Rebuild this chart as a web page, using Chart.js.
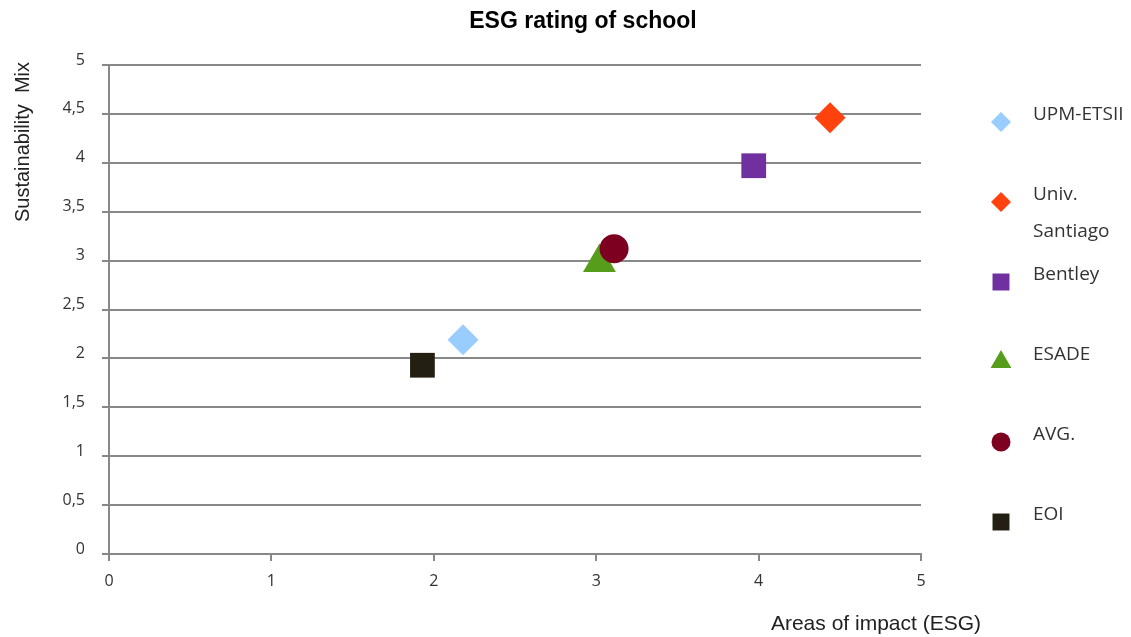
<!DOCTYPE html>
<html>
<head>
<meta charset="utf-8">
<title>ESG rating of school</title>
<script src="https://cdn.jsdelivr.net/npm/chart.js@4/dist/chart.umd.min.js"></script>
<style>
    html, body { margin: 0; padding: 0; background: #fff; }
    #wrap { width: 1131px; height: 637px; }
</style>
</head>
<body>
<div id="wrap"><canvas id="esgChart"></canvas></div>
<script>
// values
const schools = ['UPM-ETSII', 'Univ. Santiago', 'Bentley', 'ESADE', 'AVG.', 'EOI'];
const impactAreas = [2.18, 4.44, 3.97, 3.02, 3.11, 1.93];        // x
const sustainabilityMix = [2.19, 4.46, 3.97, 2.98, 3.12, 1.93];  // y
const xTicks = [0, 1, 2, 3, 4, 5];
const yTicks = [0, 0.5, 1, 1.5, 2, 2.5, 3, 3.5, 4, 4.5, 5];

const chartTitle = 'ESG rating of school';
const xTitle = 'Areas of impact (ESG)';
const yTitle = 'Sustainability  Mix';

// marker look per school
const colors = ['#99ccff', '#ff420e', '#7030a0', '#579d1c', '#7e0021', '#231f12'];
const shapes = ['rectRot', 'rectRot', 'rect', 'triangle', 'circle', 'rect'];
const sizes = [15.5, 15.5, 17.5, 19, 14.5, 17.5];
const legendSizes = [10, 10, 12, 12, 9.5, 12];

const gridColor = '#888';
const textColor = '#333';
const tickFont = {family: '"Open Sans", sans-serif', size: 16};

// 图表标题、坐标轴标题和图例
const decorations = {
    id: 'decorations',
    afterDraw(chart) {
        const {ctx, chartArea} = chart;
        ctx.save();
        ctx.fillStyle = '#000';
        ctx.font = 'bold 23px "Liberation Sans", Arial, sans-serif';
        ctx.textAlign = 'center';
        ctx.textBaseline = 'alphabetic';
        ctx.fillText(chartTitle, 583, 28);

        ctx.fillStyle = '#222';
        ctx.font = '21px "Liberation Sans", Arial, sans-serif';
        ctx.textAlign = 'right';
        ctx.fillText(xTitle, chartArea.right + 60, 630);

        ctx.save();
        ctx.translate(29, 142);
        ctx.rotate(-Math.PI / 2);
        ctx.textAlign = 'center';
        ctx.font = '20px "Liberation Sans", Arial, sans-serif';
        ctx.fillText(yTitle, 0, 0);
        ctx.restore();

        // legend
        const markerX = chartArea.right + 80;
        const textX = chartArea.right + 112;
        ctx.font = '19px "Open Sans", sans-serif';
        ctx.textAlign = 'left';
        ctx.textBaseline = 'middle';
        chart.data.datasets.forEach((ds, i) => {
            const cy = chartArea.top + 57 + i * 80;
            ctx.fillStyle = colors[i];
            Chart.helpers.drawPoint(ctx, {
                pointStyle: shapes[i],
                radius: legendSizes[i],
                rotation: 0,
                borderWidth: 0
            }, markerX, cy);
            ctx.fillStyle = textColor;
            let lines = [ds.label];
            if (ctx.measureText(ds.label).width > 100) lines = ds.label.split(' ');
            lines.forEach((line, k) => ctx.fillText(line, textX, cy - 7 + k * 37));
        });
        ctx.restore();
    }
};

const datasets = schools.map((name, i) => ({
    label: name,
    data: [{x: impactAreas[i], y: sustainabilityMix[i]}],
    backgroundColor: colors[i],
    borderColor: colors[i],
    pointStyle: shapes[i],
    pointRadius: sizes[i],
    pointBorderWidth: 0,
    order: schools.length - i
}));

const ctx = document.getElementById('esgChart').getContext('2d');
new Chart(ctx, {
    type: 'scatter',
    data: {datasets: datasets},
    plugins: [decorations],
    options: {
        responsive: true,
        maintainAspectRatio: false,
        animation: false,
        events: [],
        layout: {
            autoPadding: false,
            padding: {top: 65, right: 210, left: 0, bottom: 0}
        },
        plugins: {
            legend: {display: false},
            tooltip: {enabled: false}
        },
        scales: {
            x: {
                type: 'linear',
                min: 0,
                max: 5,
                afterFit: scale => { scale.height = 83; },
                afterBuildTicks: scale => { scale.ticks = xTicks.map(v => ({value: v})); },
                ticks: {color: textColor, font: tickFont, padding: 11},
                grid: {drawOnChartArea: false, color: gridColor, lineWidth: 2, tickLength: 7},
                border: {color: gridColor, width: 2}
            },
            y: {
                type: 'linear',
                min: 0,
                max: 5,
                afterFit: scale => { scale.width = 109; },
                afterBuildTicks: scale => { scale.ticks = yTicks.map(v => ({value: v})); },
                ticks: {
                    color: textColor,
                    font: tickFont,
                    padding: 17,
                    labelOffset: -5,
                    callback: v => String(v).replace('.', ',')
                },
                grid: {color: gridColor, lineWidth: 2, tickLength: 7},
                border: {color: gridColor, width: 2}
            }
        }
    }
});
</script>
</body>
</html>
